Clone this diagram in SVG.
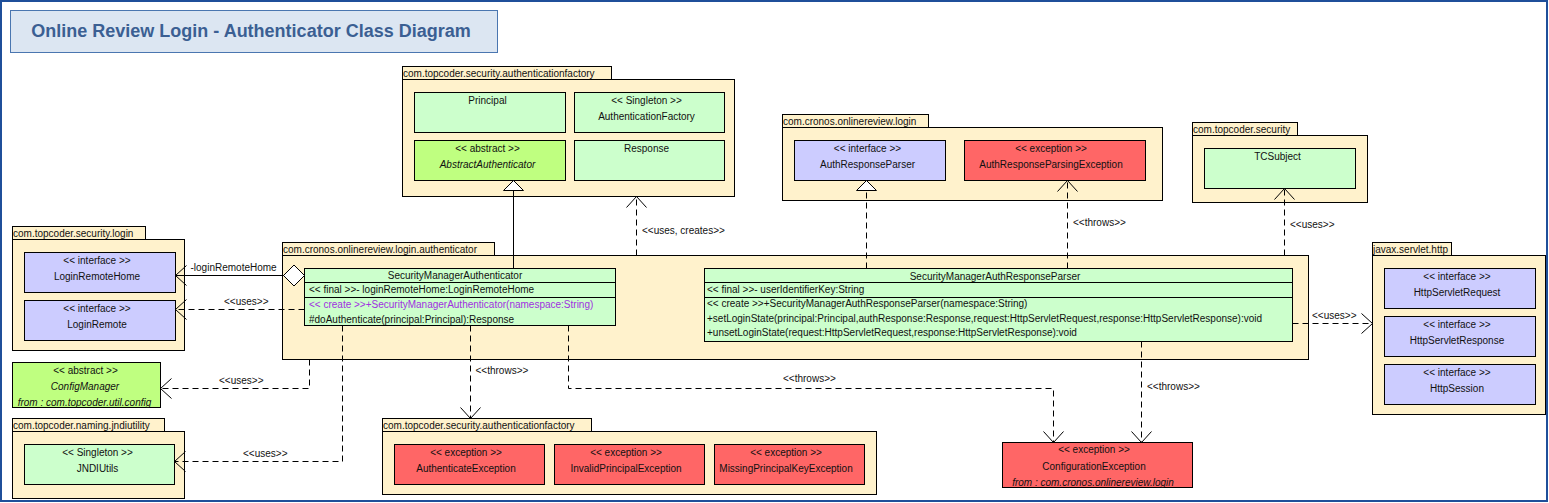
<svg xmlns="http://www.w3.org/2000/svg" width="1549" height="503" viewBox="0 0 1549 503">
<style>
text{font-family:"Liberation Sans",Arial,sans-serif;font-size:10px;fill:#111}
.c{text-anchor:middle}
.i{font-style:italic}
.pkg{fill:#fff2cc;stroke:#000;stroke-width:1}
.cls{fill:#ccffcc;stroke:#000;stroke-width:1}
.abs{fill:#bfff80;stroke:#000;stroke-width:1}
.ifc{fill:#ccccff;stroke:#000;stroke-width:1}
.exc{fill:#ff6666;stroke:#000;stroke-width:1}
.sep{stroke:#000;stroke-width:1}
.ln{fill:none;stroke:#000;stroke-width:1}
.d{stroke-dasharray:6,4}
.pur{fill:#a030e0}
.title{font-size:18px;font-weight:bold;fill:#3b5f93}
</style>
<defs>
<marker id="open" markerUnits="userSpaceOnUse" markerWidth="24" markerHeight="24" viewBox="0 0 24 24" refX="12" refY="12" orient="auto"><path d="M1,2 L12,12 L1,22" fill="none" stroke="#000" stroke-width="1"/></marker>
<marker id="tri" markerUnits="userSpaceOnUse" markerWidth="24" markerHeight="24" viewBox="0 0 24 24" refX="12" refY="12" orient="auto"><path d="M2,2 L12,12 L2,22 Z" fill="#fff" stroke="#000" stroke-width="1"/></marker>
<marker id="dia" markerUnits="userSpaceOnUse" markerWidth="24" markerHeight="24" viewBox="0 0 24 24" refX="1" refY="12" orient="auto"><path d="M1,12 L11.5,1.5 L22,12 L11.5,22.5 Z" fill="#fff" stroke="#000" stroke-width="1"/></marker>
</defs>
<rect x="1" y="1" width="1546" height="500" fill="#fff" stroke="#1f4f9a" stroke-width="2"/>
<g id="title">
<rect x="10.5" y="10.5" width="487" height="42" fill="#dce6f2" stroke="#4a76b0"/>
<text class="title c" x="251" y="37">Online Review Login - Authenticator Class Diagram</text>
</g>
<g id="pkg-authfactory-top">
<rect class="pkg" x="402.5" y="66.5" width="209" height="13"/>
<rect class="pkg" x="402.5" y="79.5" width="332" height="117"/>
<text x="403" y="77">com.topcoder.security.authenticationfactory</text>
</g>
<g id="Principal"><rect class="cls" x="414.5" y="92.5" width="151" height="40"/><text class="c" x="487.5" y="103.5">Principal</text></g>
<g id="AuthenticationFactory"><rect class="cls" x="574.5" y="92.5" width="150" height="40"/><text class="c" x="646.5" y="103.5">&lt;&lt; Singleton &gt;&gt;</text><text class="c" x="646.5" y="119.5">AuthenticationFactory</text></g>
<g id="AbstractAuthenticator"><rect class="abs" x="414.5" y="140.5" width="151" height="40"/><text class="c" x="487.5" y="151.5">&lt;&lt; abstract &gt;&gt;</text><text class="c i" x="487.5" y="167.5">AbstractAuthenticator</text></g>
<g id="Response"><rect class="cls" x="574.5" y="140.5" width="150" height="40"/><text class="c" x="646.5" y="151.5">Response</text></g>
<g id="pkg-login">
<rect class="pkg" x="782.5" y="114.5" width="146" height="13"/>
<rect class="pkg" x="782.5" y="127.5" width="380" height="73"/>
<text x="783" y="125">com.cronos.onlinereview.login</text>
</g>
<g id="AuthResponseParser"><rect class="ifc" x="794.5" y="140.5" width="151" height="40"/><text class="c" x="867.5" y="151.5">&lt;&lt; interface &gt;&gt;</text><text class="c" x="867.5" y="167.5">AuthResponseParser</text></g>
<g id="AuthResponseParsingException"><rect class="exc" x="964.5" y="140.5" width="181" height="40"/><text class="c" x="1051" y="151.5">&lt;&lt; exception &gt;&gt;</text><text class="c" x="1051" y="167.5">AuthResponseParsingException</text></g>
<g id="pkg-security">
<rect class="pkg" x="1192.5" y="122.5" width="105" height="13"/>
<rect class="pkg" x="1192.5" y="135.5" width="175" height="67"/>
<text x="1193" y="133">com.topcoder.security</text>
</g>
<g id="TCSubject"><rect class="cls" x="1204.5" y="148.5" width="151" height="40"/><text class="c" x="1277.5" y="159.5">TCSubject</text></g>
<g id="pkg-security-login">
<rect class="pkg" x="12.5" y="226.5" width="133" height="13"/>
<rect class="pkg" x="12.5" y="239.5" width="172" height="111"/>
<text x="13" y="237">com.topcoder.security.login</text>
</g>
<g id="LoginRemoteHome"><rect class="ifc" x="24.5" y="252.5" width="151" height="40"/><text class="c" x="97" y="263.5">&lt;&lt; interface &gt;&gt;</text><text class="c" x="97" y="279.5">LoginRemoteHome</text></g>
<g id="LoginRemote"><rect class="ifc" x="24.5" y="300.5" width="151" height="40"/><text class="c" x="97" y="311.5">&lt;&lt; interface &gt;&gt;</text><text class="c" x="97" y="327.5">LoginRemote</text></g>
<g id="pkg-authenticator">
<rect class="pkg" x="282.5" y="242.5" width="212" height="13"/>
<rect class="pkg" x="282.5" y="255.5" width="1026" height="104"/>
<text x="283" y="253">com.cronos.onlinereview.login.authenticator</text>
</g>
<g id="SecurityManagerAuthenticator">
<rect class="cls" x="304.5" y="268.5" width="311" height="57"/>
<line class="sep" x1="304.5" y1="282.5" x2="615.5" y2="282.5"/>
<line class="sep" x1="304.5" y1="297.5" x2="615.5" y2="297.5"/>
<text class="c" x="455" y="279.2">SecurityManagerAuthenticator</text>
<text x="309" y="292.5">&lt;&lt; final &gt;&gt;- loginRemoteHome:LoginRemoteHome</text>
<text class="pur" x="309" y="307.5">&lt;&lt; create &gt;&gt;+SecurityManagerAuthenticator(namespace:String)</text>
<text x="309" y="322.8">#doAuthenticate(principal:Principal):Response</text>
</g>
<g id="SecurityManagerAuthResponseParser">
<rect class="cls" x="704.5" y="268.5" width="588" height="73"/>
<line class="sep" x1="704.5" y1="282.5" x2="1292.5" y2="282.5"/>
<line class="sep" x1="704.5" y1="297.5" x2="1292.5" y2="297.5"/>
<text class="c" x="995" y="279.5">SecurityManagerAuthResponseParser</text>
<text x="707" y="292.5">&lt;&lt; final &gt;&gt;- userIdentifierKey:String</text>
<text x="707" y="307.2">&lt;&lt; create &gt;&gt;+SecurityManagerAuthResponseParser(namespace:String)</text>
<text x="707" y="322">+setLoginState(principal:Principal,authResponse:Response,request:HttpServletRequest,response:HttpServletResponse):void</text>
<text x="707" y="336.2">+unsetLoginState(request:HttpServletRequest,response:HttpServletResponse):void</text>
</g>
<g id="ConfigManager"><rect class="abs" x="12.5" y="362.5" width="148" height="45"/><text class="c" x="85.5" y="373.5">&lt;&lt; abstract &gt;&gt;</text><text class="c i" x="85" y="389.5">ConfigManager</text><text class="c i" x="84.5" y="405.5">from : com.topcoder.util.config</text></g>
<g id="pkg-jndiutility">
<rect class="pkg" x="12.5" y="418.5" width="152" height="13"/>
<rect class="pkg" x="12.5" y="431.5" width="172" height="67"/>
<text x="13" y="429">com.topcoder.naming.jndiutility</text>
</g>
<g id="JNDIUtils"><rect class="cls" x="24.5" y="444.5" width="150" height="40"/><text class="c" x="97.5" y="455.5">&lt;&lt; Singleton &gt;&gt;</text><text class="c" x="97.5" y="471.5">JNDIUtils</text></g>
<g id="pkg-authfactory-bottom">
<rect class="pkg" x="382.5" y="418.5" width="209" height="13"/>
<rect class="pkg" x="382.5" y="431.5" width="494" height="63"/>
<text x="383" y="429">com.topcoder.security.authenticationfactory</text>
</g>
<g id="AuthenticateException"><rect class="exc" x="394.5" y="444.5" width="150" height="40"/><text class="c" x="466" y="455.5">&lt;&lt; exception &gt;&gt;</text><text class="c" x="466" y="471.5">AuthenticateException</text></g>
<g id="InvalidPrincipalException"><rect class="exc" x="554.5" y="444.5" width="150" height="40"/><text class="c" x="626" y="455.5">&lt;&lt; exception &gt;&gt;</text><text class="c" x="626" y="471.5">InvalidPrincipalException</text></g>
<g id="MissingPrincipalKeyException"><rect class="exc" x="714.5" y="444.5" width="150" height="40"/><text class="c" x="786" y="455.5">&lt;&lt; exception &gt;&gt;</text><text class="c" x="786" y="471.5">MissingPrincipalKeyException</text></g>
<g id="ConfigurationException"><rect class="exc" x="1002.5" y="442.5" width="190" height="45"/><text class="c" x="1094" y="453">&lt;&lt; exception &gt;&gt;</text><text class="c" x="1094" y="469.5">ConfigurationException</text><text class="c i" x="1093" y="485.5">from : com.cronos.onlinereview.login</text></g>
<g id="pkg-servlet-http">
<rect class="pkg" x="1372.5" y="242.5" width="79" height="13"/>
<rect class="pkg" x="1372.5" y="255.5" width="173" height="159"/>
<text x="1373" y="253">javax.servlet.http</text>
</g>
<g id="HttpServletRequest"><rect class="ifc" x="1384.5" y="268.5" width="151" height="40"/><text class="c" x="1457" y="279.5">&lt;&lt; interface &gt;&gt;</text><text class="c" x="1457" y="295.5">HttpServletRequest</text></g>
<g id="HttpServletResponse"><rect class="ifc" x="1384.5" y="316.5" width="151" height="40"/><text class="c" x="1457" y="327.5">&lt;&lt; interface &gt;&gt;</text><text class="c" x="1457" y="343.5">HttpServletResponse</text></g>
<g id="HttpSession"><rect class="ifc" x="1384.5" y="364.5" width="151" height="40"/><text class="c" x="1457" y="375.5">&lt;&lt; interface &gt;&gt;</text><text class="c" x="1457" y="391.5">HttpSession</text></g>
<g id="connectors">
<path class="ln" d="M513.5,268.5 V180.5" marker-end="url(#tri)"/>
<path class="ln d" d="M636.5,255.5 V196.5" marker-end="url(#open)"/>
<text x="642" y="233.5">&lt;&lt;uses, creates&gt;&gt;</text>
<path class="ln d" d="M866.5,268.5 V180.5" marker-end="url(#tri)"/>
<path class="ln d" d="M1067.5,268.5 V180.5" marker-end="url(#open)"/>
<text x="1073" y="225.5">&lt;&lt;throws&gt;&gt;</text>
<path class="ln d" d="M1284.5,255.5 V188.5" marker-end="url(#open)"/>
<text x="1290" y="227.8">&lt;&lt;uses&gt;&gt;</text>
<path class="ln" d="M304.5,275.5 H175.5" marker-start="url(#dia)" marker-end="url(#open)"/>
<text x="190.5" y="271">-loginRemoteHome</text>
<path class="ln d" d="M304.5,309.5 H175.5" marker-end="url(#open)"/>
<text x="224" y="305">&lt;&lt;uses&gt;&gt;</text>
<path class="ln d" d="M309.5,359.5 V388.5 H160.5" marker-end="url(#open)"/>
<text x="219" y="383.8">&lt;&lt;uses&gt;&gt;</text>
<path class="ln d" d="M342.5,325.5 V461.5 H174.5" marker-end="url(#open)"/>
<text x="243" y="457">&lt;&lt;uses&gt;&gt;</text>
<path class="ln d" d="M470.5,325.5 V418.5" marker-end="url(#open)"/>
<text x="475.5" y="374">&lt;&lt;throws&gt;&gt;</text>
<path class="ln d" d="M568.5,325.5 V388.5 H1053.5 V442.5" marker-end="url(#open)"/>
<text x="783" y="382">&lt;&lt;throws&gt;&gt;</text>
<path class="ln d" d="M1141.5,341.5 V442.5" marker-end="url(#open)"/>
<text x="1147" y="390">&lt;&lt;throws&gt;&gt;</text>
<path class="ln d" d="M1292.5,323.5 H1372.5" marker-end="url(#open)"/>
<text x="1312" y="319">&lt;&lt;uses&gt;&gt;</text>
</g>
</svg>
